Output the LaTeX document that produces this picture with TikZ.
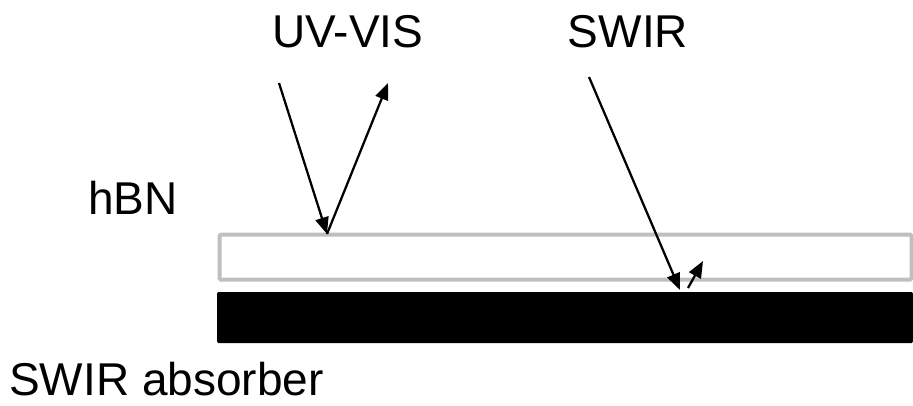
\documentclass[tikz,border=0pt]{standalone}
\usepackage{fontspec}
\setmainfont{Liberation Sans}
\usetikzlibrary{arrows.meta}
\begin{document}
\begin{tikzpicture}[x=0.75pt,y=-0.75pt,
  lbl/.style={inner sep=0pt,font=\fontsize{34.5}{40}\selectfont},
  ray/.style={line width=1.7pt,-{Triangle[length=12.5pt,width=10pt]}},
  layer/.style={line width=3pt,draw=black!25,fill=white,rounded corners=1pt},
  absorber/.style={fill=black,rounded corners=1pt}]
\useasboundingbox (0,0) rectangle (913,405);
% hBN layer and absorber slab
\draw[layer] (219.5,234.5) rectangle (911.5,279.5);
\fill[absorber] (217,292) rectangle (913,343);
% labels
\node[lbl,anchor=base] (uvvis) at (348,47) {UV-VIS};
\node[lbl,anchor=base] (swir) at (628,47) {SWIR};
\node[lbl,anchor=base] (hbn) at (133,214) {hBN};
\node[lbl,anchor=base west] (abs) at (9,395) {SWIR absorber};
% ray points
\coordinate (uvin) at (279,83);
\coordinate (uvhit) at (327,234);
\coordinate (uvout) at (388,83);
\coordinate (swin) at (589,77);
\coordinate (swhit) at (680,290);
\coordinate (swback) at (688,288);
\coordinate (swout) at (703,261);
% rays
\draw[ray] (uvin) -- (uvhit);
\draw[ray] (uvhit) -- (uvout);
\draw[ray] (swin) -- (swhit);
\draw[ray] (swback) -- (swout);
\end{tikzpicture}
\end{document}
